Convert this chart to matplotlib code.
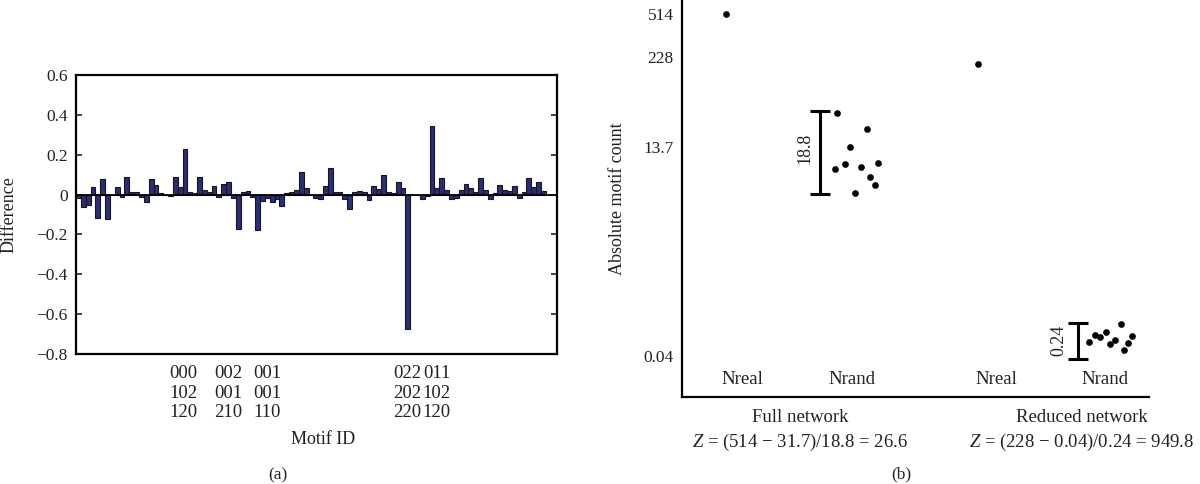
import numpy as np
import matplotlib
matplotlib.use("Agg")
from matplotlib import pyplot as plt

plt.rcParams['font.family'] = ['Liberation Serif', 'DejaVu Serif']
plt.rcParams['mathtext.fontset'] = 'custom'
plt.rcParams['mathtext.rm'] = 'Liberation Serif'
plt.rcParams['mathtext.it'] = 'Liberation Serif:italic'

# (a) difference per motif
difference = [-0.015, -0.06, -0.05, 0.04, -0.12, 0.08, -0.125, 0.0, 0.04, -0.01,
              0.09, 0.015, 0.015, -0.01, -0.035, 0.08, 0.05, 0.01, 0.0, -0.005,
              0.09, 0.04, 0.23, 0.015, 0.01, 0.09, 0.025, 0.015, 0.045, -0.01,
              0.055, 0.065, -0.015, -0.175, 0.015, 0.02, -0.01, -0.18, -0.03, -0.015,
              -0.035, -0.02, -0.055, 0.01, 0.015, 0.025, 0.115, 0.035, 0.0, -0.015,
              -0.02, 0.045, 0.135, 0.015, 0.015, -0.02, -0.07, 0.015, 0.02, 0.015,
              -0.025, 0.045, 0.03, 0.1, 0.015, 0.01, 0.065, 0.035, -0.675, 0.0,
              0.0, -0.02, -0.005, 0.345, 0.035, 0.085, 0.025, -0.02, -0.015, 0.025,
              0.055, 0.035, 0.015, 0.085, 0.025, -0.02, 0.01, 0.05, 0.025, 0.02,
              0.045, -0.015, 0.015, 0.085, 0.04, 0.065, 0.02]
motif_tick_pos = [21.6, 30.9, 38.9, 67.8, 74.0]
motif_ids = ['000\n102\n120', '002\n001\n210', '001\n001\n110', '022\n202\n220', '011\n102\n120']

# (b) absolute motif counts
full_real = 514
full_rand = [39.5, 23.9, 13.6, 7.36, 8.46, 7.78, 8.70, 5.88, 4.71, 3.77]
full_err = (3.7, 42.5)
red_real = 184.6
red_rand = [0.0591, 0.0718, 0.0679, 0.0781, 0.0559, 0.0625, 0.0976, 0.0473, 0.0574, 0.0698]
red_err = (0.0371, 0.1012)
count_ticks = [0.04, 13.7, 228, 514]
count_labels = ['0.04', '13.7', '228', '514']
group_labels = ['Nreal', 'Nrand', 'Nreal', 'Nrand']

# jitter of the random-network points (horizontal only)
full_x = [1.545, 1.846, 1.68, 1.527, 1.63, 1.79, 1.955, 1.88, 1.925, 1.733]
red_x = [4.07, 4.13, 4.18, 4.24, 4.28, 4.33, 4.39, 4.42, 4.46, 4.50]

txt = '#222222'
fig = plt.figure(figsize=(12, 4.84), dpi=100)

# ---------- panel (a) ----------
ax1 = fig.add_axes([76 / 1200, 1 - 354 / 484, 481 / 1200, 279 / 484])
x = np.arange(len(difference))
ax1.bar(x, difference, width=1.0, color='#2b2f6e', edgecolor='#15152a', linewidth=0.8)
ax1.axhline(0, color='black', lw=1.3)
ax1.set_xlim(-0.5, 98.8)
ax1.set_ylim(-0.8, 0.6)
ax1.set_yticks(np.arange(-0.8, 0.61, 0.2))
ax1.set_yticklabels(['\u22120.8', '\u22120.6', '\u22120.4', '\u22120.2', '0', '0.2', '0.4', '0.6'])
ax1.set_xticks(motif_tick_pos)
ax1.set_xticklabels(motif_ids, linespacing=1.2)
ax1.tick_params(axis='x', length=0, pad=8, labelsize=13.5, colors=txt)
ax1.tick_params(axis='y', direction='in', length=4, width=1.2, right=True,
                labelsize=12.5, pad=6, colors=txt)
for s in ax1.spines.values():
    s.set_linewidth(1.6)
ax1.set_ylabel('Difference', fontsize=13, color=txt)
ax1.yaxis.set_label_coords(-0.122, 0.5)
ax1.set_xlabel('Motif ID', fontsize=13, color=txt)
ax1.xaxis.set_label_coords(0.514, -0.275)
fig.text(278 / 1200, 1 - 475 / 484, '(a)', ha='center', va='center', fontsize=12.5, color=txt)

# ---------- panel (b) ----------
ax2 = fig.add_axes([682 / 1200, 1 - 397 / 484, 467 / 1200, 397 / 484])

anchor_vals = np.log10([0.01275, 0.04, 13.7, 228, 514, 673])
anchor_pos = np.array([0, 41, 250.3, 339.7, 382.7, 397])


def fwd(v):
    v = np.clip(np.asarray(v, dtype=float), 1e-6, None)
    return np.interp(np.log10(v), anchor_vals, anchor_pos)


def inv(p):
    return 10 ** np.interp(p, anchor_pos, anchor_vals)


ax2.set_yscale('function', functions=(fwd, inv))
ax2.set_ylim(0.01275, 673)
ax2.set_xlim(0, 4.67)

ax2.plot([0.44], [full_real], 'o', color='black', ms=3.8)
ax2.plot(full_x, full_rand, 'o', color='black', ms=3.8, ls='none')
ax2.plot([2.96], [red_real], 'o', color='black', ms=3.8)
ax2.plot(red_x, red_rand, 'o', color='black', ms=3.8, ls='none')

for xe, (lo, hi) in [(1.38, full_err), (3.96, red_err)]:
    ax2.errorbar([xe], [hi], yerr=[[hi - lo], [0]], fmt='none', ecolor='black',
                 elinewidth=2.2, capsize=7, capthick=2.2)
ax2.text(1.23, 13.2, '18.8', rotation=90, ha='center', va='center', fontsize=13, color=txt)
ax2.text(3.77, 0.062, '0.24', rotation=90, ha='center', va='center', fontsize=13, color=txt)

ax2.set_yticks(count_ticks)
ax2.set_yticklabels(count_labels)
ax2.yaxis.set_minor_locator(matplotlib.ticker.NullLocator())
ax2.set_xticks([])
ax2.tick_params(axis='y', length=0, pad=6, labelsize=12.5, colors=txt)
ax2.spines['top'].set_visible(False)
ax2.spines['right'].set_visible(False)
ax2.spines['left'].set_linewidth(1.6)
ax2.spines['bottom'].set_linewidth(1.6)
ax2.set_ylabel('Absolute motif count', fontsize=13, color=txt)
ax2.yaxis.set_label_coords(-0.12, 0.5)

for gx, lab in zip([0.6, 1.7, 3.14, 4.23], group_labels):
    ax2.text(gx, (397 - 380) / 397, lab, transform=ax2.get_xaxis_transform(),
             ha='center', va='center', fontsize=13.5, color=txt)

fig.text(800 / 1200, 1 - 418 / 484, 'Full network', ha='center', va='center', fontsize=13.5, color=txt)
fig.text(800 / 1200, 1 - 442 / 484, '$Z$ = (514 \u2212 31.7)/18.8 = 26.6', ha='center', va='center',
         fontsize=13.5, color=txt)
fig.text(1082 / 1200, 1 - 418 / 484, 'Reduced network', ha='center', va='center', fontsize=13.5, color=txt)
fig.text(1082 / 1200, 1 - 442 / 484, '$Z$ = (228 \u2212 0.04)/0.24 = 949.8', ha='center', va='center',
         fontsize=13.5, color=txt)
fig.text(901 / 1200, 1 - 474 / 484, '(b)', ha='center', va='center', fontsize=12.5, color=txt)

fig.savefig('out.png', dpi=100)
